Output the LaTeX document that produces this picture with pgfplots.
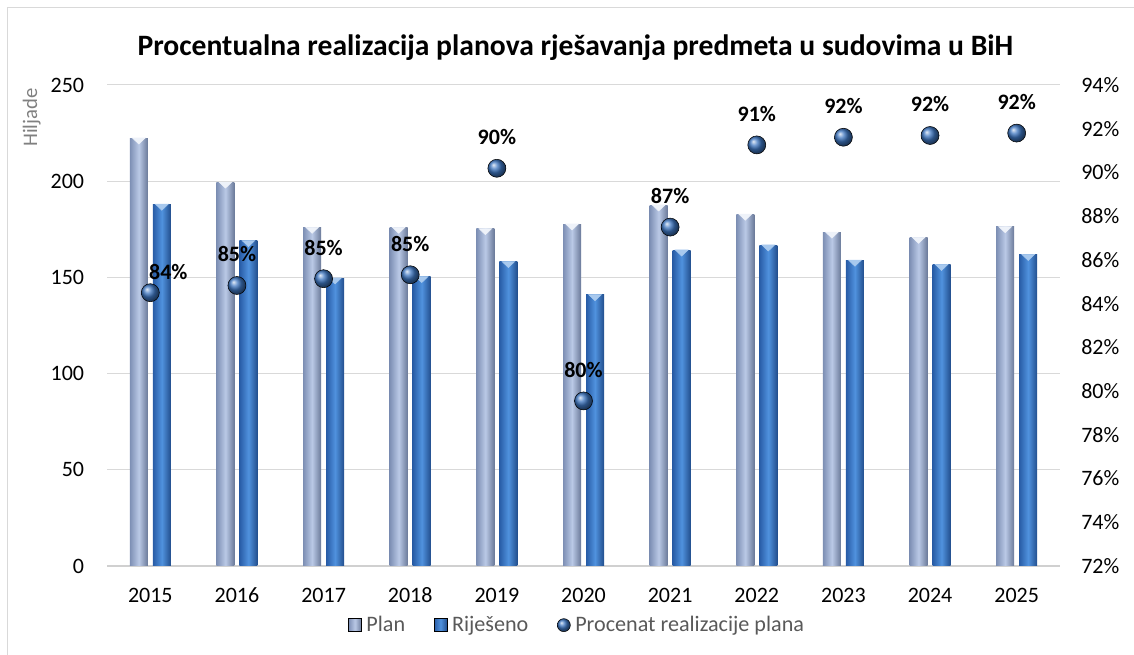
\documentclass[border=0pt]{standalone}
\usepackage{pgfplots}
\usepackage{pgfplotstable}
\pgfplotsset{compat=1.18}
\usepackage{fontspec}
\setmainfont{Carlito}
\definecolor{planE}{RGB}{125,143,180}
\definecolor{planM}{RGB}{186,201,230}
\definecolor{rijE}{RGB}{40,92,166}
\definecolor{rijM}{RGB}{80,146,222}
\definecolor{sph}{RGB}{62,118,192}
\definecolor{gridc}{RGB}{217,217,217}
\definecolor{zeroc}{RGB}{208,208,208}
\definecolor{legc}{RGB}{89,89,89}
\definecolor{framec}{RGB}{217,217,217}
\pgfplotstableread{
x plan rij pct lab
0 222.3 187.9 84.5 84
1 199.4 169.0 84.83 85
2 175.9 149.6 85.14 85
3 175.9 150.3 85.32 85
4 175.2 158.1 90.19 90
5 177.6 140.9 79.55 80
6 187.5 164.1 87.5 87
7 182.7 166.7 91.26 91
8 173.4 158.8 91.61 92
9 170.7 156.6 91.69 92
10 176.2 161.8 91.80 92
}\data
\begin{document}
\begin{tikzpicture}[x=1pt,y=1pt]
\useasboundingbox (0,0) rectangle (850.5,491.25);
\draw[framec, line width=0.75pt] (5.6,-5) -- (5.6,485.4) -- (860,485.4);
\node[font=\bfseries\fontsize{22.2}{26}\selectfont, anchor=base] at (431.5,449.25) {Procentualna realizacija planova rješavanja predmeta u sudovima u BiH};
\node[font=\fontsize{15.5}{18}\selectfont, text=black!50, rotate=90, anchor=south east] at (34,428.5) {Hiljade};
\begin{axis}[
  at={(80.25pt,66.75pt)}, anchor=south west, scale only axis,
  width=714.75pt, height=360.75pt,
  xmin=-0.5, xmax=10.5, ymin=0, ymax=250,
  xtick={0,...,10},
  xticklabels={2015,2016,2017,2018,2019,2020,2021,2022,2023,2024,2025},
  ytick={0,50,...,250},
  /pgf/number format/assume math mode=true,
  tick label style={font=\fontsize{16.5}{18}\selectfont, text=black},
  xticklabel style={anchor=base, inner sep=0pt, yshift=-27.75pt},
  yticklabel style={anchor=east, inner sep=0pt, xshift=-17pt},
  major tick length=0pt,
  ymajorgrids, grid style={draw=gridc, line width=0.75pt},
  axis x line*=bottom, axis y line*=left,
  x axis line style={draw=zeroc, line width=1.5pt, -},
  y axis line style={draw=none},
  clip=false,
]
\pgfplotsinvokeforeach{0,...,10}{
\addplot[ybar, bar width=13.5pt, bar shift=-8.625pt, draw=none, left color=planE, right color=planE!85!black, middle color=planM, forget plot,
  x filter/.code={\ifnum\coordindex=#1\relax\else\def\pgfmathresult{}\fi}]
  table[x=x, y=plan] {\data};
\addplot[ybar, bar width=13.5pt, bar shift=8.625pt, draw=none, left color=rijE, right color=rijE!85!black, middle color=rijM, forget plot,
  x filter/.code={\ifnum\coordindex=#1\relax\else\def\pgfmathresult{}\fi}]
  table[x=x, y=rij] {\data};
}
% bar caps
\addplot[only marks, draw=none, mark=triangle*, mark size=5.5pt, mark options={draw=planM!25!white, fill=planM!25!white, xshift=-8.625pt, yshift=-1.3pt, yscale=-0.55}] table[x=x, y=plan] {\data};
\addplot[only marks, draw=none, mark=triangle*, mark size=5.5pt, mark options={draw=rijM!50!white, fill=rijM!50!white, xshift=8.625pt, yshift=-1.3pt, yscale=-0.55}] table[x=x, y=rij] {\data};
\end{axis}
\begin{axis}[
  at={(80.25pt,66.75pt)}, anchor=south west, scale only axis,
  width=714.75pt, height=360.75pt,
  xmin=-0.5, xmax=10.5, ymin=72, ymax=94,
  axis x line=none, axis y line*=right,
  y axis line style={draw=none},
  ytick={72,74,...,94},
  /pgf/number format/assume math mode=true,
  yticklabel={\pgfmathprintnumber[fixed,precision=0]{\tick}\%},
  tick label style={font=\fontsize{16.5}{18}\selectfont, text=black},
  yticklabel style={anchor=west, inner sep=0pt, xshift=15.75pt},
  major tick length=0pt,
  clip=false,
  legend columns=3,
  legend style={at={(0.494,-0.123)}, anchor=center, draw=none, fill=none,
    font=\fontsize{16.6}{18}\selectfont, text=legc,
    nodes={inner xsep=2.5pt, inner ysep=1pt},
    /tikz/every odd column/.append style={column sep=1pt},
    /tikz/every even column/.append style={column sep=19pt}},
]
\addlegendimage{legend image code/.code={\fill[left color=planE, right color=planE!85!black, middle color=planM] (0pt,-4.875pt) rectangle (9.75pt,4.875pt);}}
\addlegendentry{Plan}
\addlegendimage{legend image code/.code={\fill[left color=rijE, right color=rijE!85!black, middle color=rijM] (0pt,-4.875pt) rectangle (9.75pt,4.875pt);}}
\addlegendentry{Riješeno}
\addplot[only marks, mark=ball, mark size=6.75pt, mark options={ball color=sph},
  legend image code/.code={\shade[ball color=sph] (4.875pt,0pt) circle (4.875pt);}] table[x=x, y=pct] {\data};
\addlegendentry{Procenat realizacije plana}
\addplot[forget plot, draw=none, mark=none, point meta=explicit,
  x filter/.code={\ifnum\coordindex=0\relax\def\pgfmathresult{}\fi},
  nodes near coords={\pgfmathprintnumber[fixed,precision=0]{\pgfplotspointmeta}\%},
  nodes near coords style={font=\bfseries\fontsize{16.5}{18}\selectfont, text=black, anchor=center, yshift=23.4pt}]
  table[x=x, y=pct, meta=lab] {\data};
\addplot[forget plot, draw=none, mark=none, point meta=explicit,
  x filter/.code={\ifnum\coordindex>0\relax\def\pgfmathresult{}\fi},
  nodes near coords={\pgfmathprintnumber[fixed,precision=0]{\pgfplotspointmeta}\%},
  nodes near coords style={font=\bfseries\fontsize{16.5}{18}\selectfont, text=black, anchor=center, xshift=13.5pt, yshift=15.75pt}]
  table[x=x, y=pct, meta=lab] {\data};
\end{axis}
\end{tikzpicture}
\end{document}
